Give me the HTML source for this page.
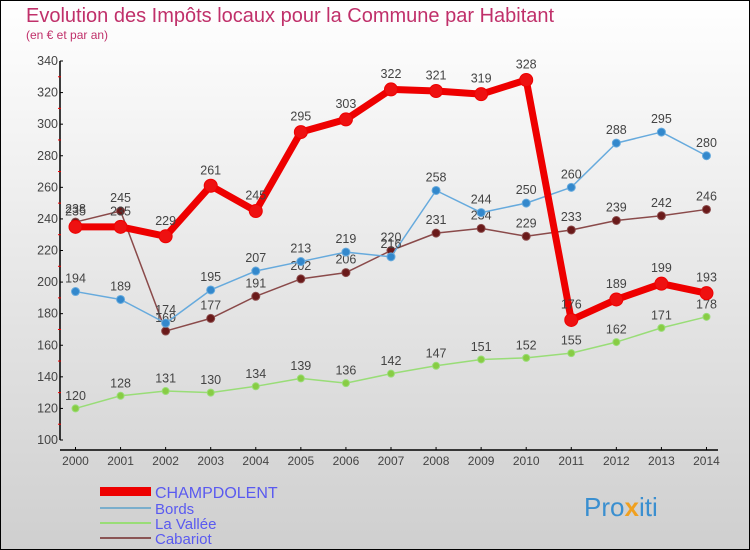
<!DOCTYPE html>
<html><head><meta charset="utf-8"><style>
body{margin:0}
#wrap{width:750px;height:550px;position:relative;overflow:hidden;font-family:"Liberation Sans",sans-serif}
</style></head><body>
<div id="wrap">
<svg id="svg" width="750" height="550" xmlns="http://www.w3.org/2000/svg">
<defs><linearGradient id="bg" x1="0" y1="0" x2="0" y2="1"><stop offset="0" stop-color="#ffffff"/><stop offset="1" stop-color="#cfcfcf"/></linearGradient></defs>
<rect x="0.5" y="0.5" width="749" height="549" fill="url(#bg)" stroke="#000"/>
<text x="26" y="22" font-size="20" fill="#c0306a">Evolution des Impôts locaux pour la Commune par Habitant</text>
<text x="26" y="39" font-size="12" fill="#c0306a">(en € et par an)</text>
<g id="axes"></g><g id="series"></g>
<g>
<rect x="100" y="487" width="51" height="9" fill="#ee0000"/>
<text x="155" y="498" font-size="16" fill="#5a5af0">CHAMPDOLENT</text>
<line x1="100" y1="508" x2="151" y2="508" stroke="#7aaecc" stroke-width="2"/>
<text x="155" y="514" font-size="15" fill="#5a5af0">Bords</text>
<line x1="100" y1="523" x2="151" y2="523" stroke="#99dd77" stroke-width="2"/>
<text x="155" y="529" font-size="15" fill="#5a5af0">La Vallée</text>
<line x1="100" y1="538" x2="151" y2="538" stroke="#8a5555" stroke-width="2"/>
<text x="155" y="544" font-size="15" fill="#5a5af0">Cabariot</text>
</g>
<text x="584" y="516" font-size="26" fill="#3a8fd0">Pro<tspan fill="#f0a020" font-weight="bold">x</tspan><tspan fill="#3a8fd0">iti</tspan></text>
</svg></div>
<script>
const years=[2000,2001,2002,2003,2004,2005,2006,2007,2008,2009,2010,2011,2012,2013,2014];
const champdolent=[235,235,229,261,245,295,303,322,321,319,328,176,189,199,193];
const bords=[194,189,174,195,207,213,219,216,258,244,250,260,288,295,280];
const laVallee=[120,128,131,130,134,139,136,142,147,151,152,155,162,171,178];
const cabariot=[238,245,169,177,191,202,206,220,231,234,229,233,239,242,246];
const yTicks=[100,120,140,160,180,200,220,240,260,280,300,320,340];
const NS="http://www.w3.org/2000/svg";
const X=i=>75.5+i*45.07, Y=v=>440-(v-100)*(379/240);
function mk(tag,attrs,parent){const e=document.createElementNS(NS,tag);for(const k in attrs)e.setAttribute(k,attrs[k]);parent.appendChild(e);return e;}
const ax=document.getElementById('axes');
let l=mk('line',{x1:60,y1:Y(340),x2:60,y2:440,stroke:'#000','stroke-width':1.5},ax);


l=mk('line',{x1:60,y1:450,x2:718,y2:450,stroke:'#000','stroke-width':1.5},ax);


yTicks.forEach((v,i)=>{
 let t=mk('line',{x1:60,y1:Y(v),x2:63,y2:Y(v),stroke:'#000'},ax);
 
 
 let tx=mk('text',{x:58,y:Y(v)+4,'font-size':12.5,fill:'#444','text-anchor':'end'},ax);tx.textContent=v;
 
 
 if(i<yTicks.length-1){let m=mk('line',{x1:58,y1:Y(v+10),x2:61,y2:Y(v+10),stroke:'#e00'},ax);
 
 }
});
years.forEach((y,i)=>{
 let t=mk('line',{x1:X(i),y1:447,x2:X(i),y2:450,stroke:'#000'},ax);
 
 
 let tx=mk('text',{x:X(i),y:465,'font-size':12,fill:'#444','text-anchor':'middle'},ax);tx.textContent=y;
 
 
});
const sg=document.getElementById('series');
function series(name,data,color,dot,w,r){
 const g=mk('g',{},sg);
 
 
 const p=mk('polyline',{points:data.map((v,i)=>X(i)+','+Y(v)).join(' '),fill:'none',stroke:color,'stroke-width':w,'stroke-linejoin':'round'},g);
 
 
 data.forEach((v,i)=>{
  const c=mk('circle',{cx:X(i),cy:Y(v),r:r,fill:dot,stroke:color,'stroke-width':1},g);
  
  
  const t=mk('text',{x:X(i),y:Y(v)-r-5,'font-size':12.5,fill:'#444','text-anchor':'middle'},g);t.textContent=v;
  
  
 });
}
series('la-vallee',laVallee,'#99dd77','#88cc44',1.5,3.5);
series('cabariot',cabariot,'#8a4a4a','#6a1a1a',1.5,4);
series('bords',bords,'#66aadd','#3388cc',1.5,4);
series('champdolent',champdolent,'#ee0000','#ee1111',7,6.5);
</script>
</body></html>
